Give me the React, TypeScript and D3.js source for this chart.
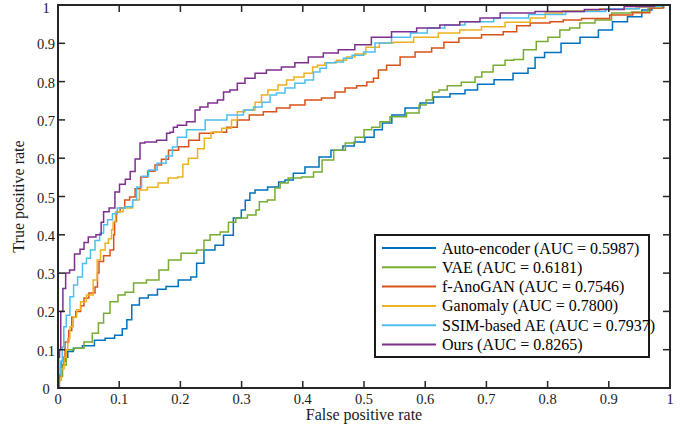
import React from 'react';
import * as d3 from 'd3';

const width = 691;
const height = 429;
const margin = { top: 5, right: 21, bottom: 41, left: 58 };

// ROC points: [false positive rate, true positive rate]
const autoEncoder: [number, number][] = [
  [0, 0], [0.003, 0.03], [0.006, 0.06], [0.012, 0.08], [0.02, 0.095], [0.03, 0.104], [0.05, 0.11],
  [0.069, 0.125], [0.085, 0.13], [0.1, 0.138], [0.11, 0.155], [0.115, 0.178], [0.126, 0.217],
  [0.14, 0.235], [0.155, 0.243], [0.17, 0.258], [0.183, 0.265], [0.21, 0.282], [0.224, 0.29],
  [0.229, 0.326], [0.248, 0.36], [0.265, 0.373], [0.276, 0.399], [0.297, 0.444], [0.302, 0.465],
  [0.31, 0.49], [0.317, 0.509], [0.327, 0.517], [0.358, 0.525], [0.363, 0.538], [0.379, 0.543],
  [0.39, 0.561], [0.417, 0.577], [0.436, 0.603], [0.456, 0.621], [0.475, 0.632], [0.493, 0.642],
  [0.51, 0.655], [0.523, 0.674], [0.537, 0.692], [0.554, 0.713], [0.58, 0.731], [0.603, 0.744],
  [0.624, 0.76], [0.657, 0.768], [0.673, 0.778], [0.698, 0.793], [0.727, 0.805], [0.76, 0.822],
  [0.776, 0.835], [0.783, 0.863], [0.807, 0.876], [0.837, 0.9], [0.869, 0.916], [0.897, 0.935],
  [0.915, 0.956], [0.946, 0.969], [0.962, 0.987], [0.979, 0.995], [1, 1],
];

const vae: [number, number][] = [
  [0, 0], [0.005, 0.03], [0.01, 0.06], [0.017, 0.1], [0.036, 0.104], [0.049, 0.12], [0.063, 0.143],
  [0.069, 0.17], [0.08, 0.195], [0.09, 0.225], [0.106, 0.243], [0.113, 0.25], [0.134, 0.274],
  [0.155, 0.282], [0.175, 0.308], [0.186, 0.334], [0.216, 0.352], [0.237, 0.36], [0.24, 0.386],
  [0.257, 0.4], [0.273, 0.407], [0.284, 0.433], [0.297, 0.444], [0.322, 0.452], [0.325, 0.465],
  [0.333, 0.486], [0.351, 0.491], [0.358, 0.522], [0.368, 0.535], [0.384, 0.548], [0.412, 0.551],
  [0.423, 0.564], [0.44, 0.595], [0.461, 0.621], [0.478, 0.64], [0.493, 0.655], [0.507, 0.674],
  [0.518, 0.681], [0.534, 0.695], [0.551, 0.708], [0.588, 0.718], [0.592, 0.739], [0.611, 0.752],
  [0.613, 0.773], [0.632, 0.778], [0.64, 0.789], [0.678, 0.798], [0.685, 0.812], [0.7, 0.825],
  [0.722, 0.843], [0.739, 0.856], [0.75, 0.858], [0.771, 0.883], [0.792, 0.905], [0.809, 0.916],
  [0.831, 0.935], [0.841, 0.94], [0.864, 0.953], [0.891, 0.961], [0.918, 0.979], [0.956, 0.982],
  [0.972, 0.992], [1, 1],
];

const fAnoGan: [number, number][] = [
  [0, 0], [0.003, 0.03], [0.008, 0.07], [0.015, 0.12], [0.02, 0.15], [0.025, 0.185], [0.033, 0.2],
  [0.041, 0.215], [0.044, 0.235], [0.057, 0.248], [0.064, 0.264], [0.065, 0.3], [0.069, 0.33],
  [0.08, 0.345], [0.09, 0.36], [0.092, 0.4], [0.093, 0.435], [0.098, 0.46], [0.105, 0.47],
  [0.113, 0.491], [0.121, 0.499], [0.131, 0.52], [0.139, 0.551], [0.154, 0.566], [0.163, 0.582],
  [0.175, 0.597], [0.186, 0.621], [0.208, 0.63], [0.219, 0.647], [0.243, 0.665], [0.265, 0.668],
  [0.286, 0.681], [0.3, 0.7], [0.325, 0.713], [0.346, 0.721], [0.368, 0.731], [0.39, 0.739],
  [0.417, 0.752], [0.444, 0.757], [0.461, 0.773], [0.477, 0.783], [0.499, 0.789], [0.51, 0.799],
  [0.521, 0.809], [0.526, 0.83], [0.548, 0.843], [0.57, 0.864], [0.597, 0.877], [0.624, 0.888],
  [0.637, 0.903], [0.673, 0.914], [0.711, 0.922], [0.744, 0.93], [0.755, 0.946], [0.788, 0.953],
  [0.82, 0.956], [0.831, 0.961], [0.88, 0.965], [0.923, 0.974], [0.955, 0.98], [0.979, 0.992], [1, 1],
];

const ganomaly: [number, number][] = [
  [0, 0], [0.003, 0.02], [0.008, 0.05], [0.012, 0.08], [0.015, 0.1], [0.017, 0.13], [0.022, 0.16],
  [0.028, 0.185], [0.033, 0.204], [0.041, 0.225], [0.052, 0.243], [0.063, 0.282], [0.065, 0.334],
  [0.074, 0.36], [0.08, 0.378], [0.085, 0.39], [0.09, 0.413], [0.09, 0.433], [0.098, 0.46],
  [0.115, 0.47], [0.129, 0.491], [0.137, 0.517], [0.155, 0.524], [0.172, 0.535], [0.188, 0.548],
  [0.203, 0.551], [0.205, 0.584], [0.221, 0.6], [0.235, 0.625], [0.243, 0.652], [0.257, 0.668],
  [0.278, 0.678], [0.289, 0.7], [0.297, 0.721], [0.314, 0.726], [0.33, 0.746], [0.335, 0.765],
  [0.351, 0.778], [0.368, 0.791], [0.379, 0.804], [0.392, 0.812], [0.412, 0.822], [0.42, 0.838],
  [0.428, 0.843], [0.444, 0.849], [0.466, 0.856], [0.477, 0.864], [0.493, 0.872], [0.513, 0.89],
  [0.537, 0.901], [0.559, 0.903], [0.603, 0.916], [0.64, 0.927], [0.673, 0.935], [0.711, 0.943],
  [0.75, 0.955], [0.793, 0.966], [0.799, 0.979], [0.85, 0.985], [0.92, 0.99], [0.97, 0.995], [1, 1],
];

const ssimAe: [number, number][] = [
  [0, 0], [0.003, 0.035], [0.006, 0.07], [0.008, 0.107], [0.011, 0.16], [0.016, 0.19], [0.023, 0.238],
  [0.028, 0.269], [0.036, 0.29], [0.044, 0.325], [0.049, 0.339], [0.057, 0.36], [0.064, 0.385],
  [0.072, 0.404], [0.077, 0.426], [0.085, 0.439], [0.093, 0.455], [0.101, 0.47], [0.118, 0.473],
  [0.126, 0.491], [0.131, 0.525], [0.142, 0.553], [0.154, 0.569], [0.17, 0.587], [0.183, 0.606],
  [0.191, 0.629], [0.199, 0.655], [0.221, 0.674], [0.26, 0.7], [0.292, 0.713], [0.314, 0.726],
  [0.325, 0.734], [0.342, 0.746], [0.351, 0.765], [0.363, 0.77], [0.379, 0.783], [0.395, 0.796],
  [0.412, 0.804], [0.423, 0.825], [0.433, 0.835], [0.444, 0.849], [0.461, 0.851], [0.472, 0.861],
  [0.489, 0.869], [0.51, 0.877], [0.526, 0.901], [0.564, 0.916], [0.588, 0.927], [0.619, 0.94],
  [0.645, 0.948], [0.685, 0.956], [0.739, 0.966], [0.799, 0.975], [0.86, 0.983], [0.93, 0.99],
  [0.97, 0.996], [1, 1],
];

const ours: [number, number][] = [
  [0, 0], [0.002, 0.08], [0.003, 0.1], [0.006, 0.2], [0.01, 0.26], [0.015, 0.3], [0.023, 0.308],
  [0.031, 0.35], [0.041, 0.362], [0.044, 0.38], [0.055, 0.394], [0.069, 0.4], [0.072, 0.433],
  [0.077, 0.46], [0.09, 0.47], [0.096, 0.512], [0.105, 0.532], [0.115, 0.545], [0.121, 0.565],
  [0.131, 0.598], [0.137, 0.64], [0.147, 0.642], [0.175, 0.647], [0.18, 0.665], [0.186, 0.668],
  [0.191, 0.681], [0.199, 0.686], [0.221, 0.695], [0.227, 0.726], [0.237, 0.734], [0.253, 0.744],
  [0.268, 0.752], [0.273, 0.773], [0.289, 0.778], [0.297, 0.796], [0.314, 0.809], [0.33, 0.822],
  [0.351, 0.83], [0.379, 0.838], [0.395, 0.849], [0.423, 0.864], [0.444, 0.875], [0.472, 0.883],
  [0.498, 0.896], [0.526, 0.916], [0.564, 0.93], [0.608, 0.94], [0.64, 0.948], [0.673, 0.956],
  [0.706, 0.966], [0.739, 0.979], [0.82, 0.983], [0.9, 0.988], [0.95, 0.996], [1, 1],
];

const seriesNames = [
  'Auto-encoder (AUC = 0.5987)',
  'VAE (AUC = 0.6181)',
  'f-AnoGAN (AUC = 0.7546)',
  'Ganomaly (AUC = 0.7800)',
  'SSIM-based AE (AUC = 0.7937)',
  'Ours (AUC = 0.8265)',
];
const seriesData = [autoEncoder, vae, fAnoGan, ganomaly, ssimAe, ours];
const colors = ['#0072BD', '#77AC30', '#D95319', '#EDB120', '#4DBEEE', '#7E2F8E'];

const tickValues = [0, 0.1, 0.2, 0.3, 0.4, 0.5, 0.6, 0.7, 0.8, 0.9, 1];

const font = '"Liberation Serif", "Times New Roman", serif';
const axisColor = '#262626';

export default function App() {
  const x = d3.scaleLinear().domain([0, 1]).range([margin.left, width - margin.right]);
  const y = d3.scaleLinear().domain([0, 1]).range([height - margin.bottom, margin.top]);

  const line = d3
    .line<[number, number]>()
    .x((d) => x(d[0]))
    .y((d) => y(d[1]))
    .curve(d3.curveStep);

  const fmt = (v: number) => (v === 0 || v === 1 ? String(v) : d3.format('.1f')(v));
  const tickLen = 7;
  const x0 = x(0), x1 = x(1), y0 = y(0), y1 = y(1);

  // legend
  const legX = 375, legY = 235, legW = 274, legH = 122, rowH = 19.3;

  return (
    <svg
      width={width}
      height={height}
      style={{ position: 'absolute', left: 0, top: 0, background: '#fff' }}
      fontFamily={font}
    >
      <rect width={width} height={height} fill="#fff" />

      <g fill="none" strokeWidth={1.5} strokeLinejoin="miter">
        {seriesData.map((d, i) => (
          <path key={seriesNames[i]} d={line(d) || ''} stroke={colors[i]} />
        ))}
      </g>

      {/* box */}
      <rect x={x0} y={y1} width={x1 - x0} height={y0 - y1} fill="none" stroke={axisColor} strokeWidth={2} />

      {/* ticks */}
      <g stroke={axisColor} strokeWidth={1.5}>
        {tickValues.map((t) => (
          <g key={'t' + t}>
            <line x1={x(t)} x2={x(t)} y1={y0} y2={y0 - tickLen} />
            <line x1={x(t)} x2={x(t)} y1={y1} y2={y1 + tickLen} />
            <line x1={x0} x2={x0 + tickLen} y1={y(t)} y2={y(t)} />
            <line x1={x1} x2={x1 - tickLen} y1={y(t)} y2={y(t)} />
          </g>
        ))}
      </g>

      <g fontSize={14.5} fill="#1a1a1a">
        {tickValues.map((t) => (
          <text key={'xl' + t} x={x(t)} y={y0 + 15.5} textAnchor="middle">
            {fmt(t)}
          </text>
        ))}
        {tickValues.map((t) => (
          <text key={'yl' + t} x={46} y={Math.max(y(t) + 6, 13)} textAnchor="middle">
            {fmt(t)}
          </text>
        ))}
      </g>

      <text x={(x0 + x1) / 2} y={420} textAnchor="middle" fontSize={16} fill="#1a1a1a">
        False positive rate
      </text>
      <text
        transform={`translate(24, ${(y0 + y1) / 2}) rotate(-90)`}
        textAnchor="middle"
        fontSize={16}
        fill="#1a1a1a"
      >
        True positive rate
      </text>

      {/* legend */}
      <g>
        <rect x={legX} y={legY} width={legW} height={legH} fill="#fff" stroke="#1a1a1a" strokeWidth={2} />
        {seriesNames.map((name, i) => {
          const cy = legY + 13 + i * rowH;
          return (
            <g key={name}>
              <line x1={legX + 7} x2={legX + 61} y1={cy} y2={cy} stroke={colors[i]} strokeWidth={2} />
              <text x={legX + 67} y={cy + 5.5} fontSize={16} fill="#000">
                {name}
              </text>
            </g>
          );
        })}
      </g>
    </svg>
  );
}
